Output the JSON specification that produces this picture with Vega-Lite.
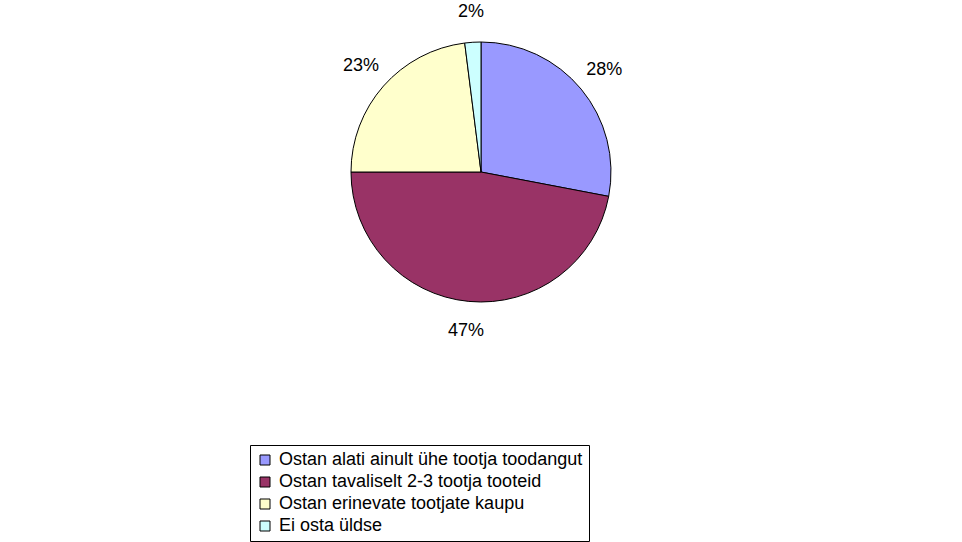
{
  "$schema": "https://vega.github.io/schema/vega-lite/v6.json",
  "width": 962,
  "height": 344,
  "autosize": "none",
  "padding": {"top": 0, "left": 0, "right": 0, "bottom": 198},
  "background": "white",
  "config": {"view": {"stroke": null}, "font": "Liberation Sans"},
  "data": {
    "values": [
      {"category": "Ostan alati ainult ühe tootja toodangut", "share": 28, "label": "28%", "order": 1},
      {"category": "Ostan tavaliselt 2-3 tootja tooteid", "share": 47, "label": "47%", "order": 2},
      {"category": "Ostan erinevate tootjate kaupu", "share": 23, "label": "23%", "order": 3},
      {"category": "Ei osta üldse", "share": 2, "label": "2%", "order": 4}
    ]
  },
  "encoding": {
    "theta": {"field": "share", "type": "quantitative", "stack": true},
    "order": {"field": "order", "type": "quantitative"}
  },
  "layer": [
    {
      "mark": {"type": "arc", "outerRadius": 130, "stroke": "black", "strokeWidth": 1},
      "encoding": {
        "color": {
          "field": "category",
          "type": "nominal",
          "sort": null,
          "scale": {
            "domain": ["Ostan alati ainult ühe tootja toodangut", "Ostan tavaliselt 2-3 tootja tooteid", "Ostan erinevate tootjate kaupu", "Ei osta üldse"],
            "range": ["#9999FF", "#993366", "#FFFFCC", "#CCFFFF"]
          },
          "legend": {
            "orient": "none",
            "legendX": 250,
            "legendY": 445,
            "title": null,
            "strokeColor": "black",
            "padding": 6,
            "symbolType": "square",
            "symbolSize": 100,
            "symbolStrokeColor": "black",
            "symbolStrokeWidth": 1,
            "symbolOpacity": 1,
            "labelFontSize": 18,
            "labelColor": "black",
            "labelFont": "Liberation Sans",
            "labelOffset": 5,
            "rowPadding": 4,
            "labelLimit": 600
          }
        }
      }
    },
    {
      "mark": {"type": "text", "radius": 160, "fontSize": 18, "font": "Liberation Sans", "color": "black"},
      "encoding": {"text": {"field": "label", "type": "nominal"}}
    }
  ]
}
